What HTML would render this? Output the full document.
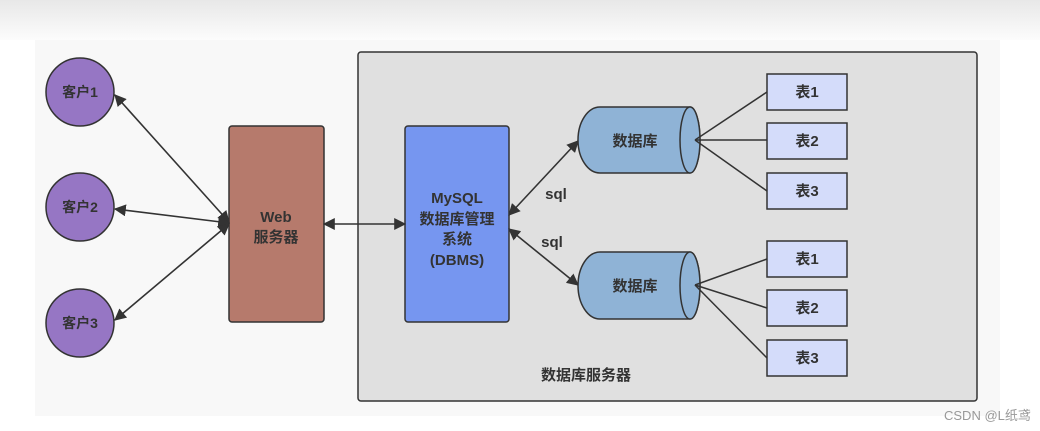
<!DOCTYPE html>
<html><head><meta charset="utf-8"><style>
html,body{margin:0;padding:0;background:#fff;}
body{width:1040px;height:431px;overflow:hidden;position:relative;font-family:"Liberation Sans","Noto Sans CJK SC",sans-serif;}
</style></head><body>
<svg width="1040" height="431" viewBox="0 0 1040 431" xmlns="http://www.w3.org/2000/svg" style="position:absolute;left:0;top:0">
<defs>
<linearGradient id="tg" x1="0" y1="0" x2="0" y2="1"><stop offset="0" stop-color="#e8e8e8"/><stop offset="1" stop-color="#fcfcfc"/></linearGradient>
<marker id="ah" viewBox="0 0 10 10" refX="9" refY="5" markerWidth="12" markerHeight="12" markerUnits="userSpaceOnUse" orient="auto-start-reverse"><path d="M0,0 L10,5 L0,10 z" fill="#333"/></marker>
</defs>
<rect x="0" y="0" width="1040" height="40" fill="url(#tg)"/>
<rect x="35" y="40" width="965" height="376" fill="#f8f8f8"/>
<rect x="358" y="52" width="619" height="349" rx="3" fill="#e0e0e0" stroke="#333" stroke-width="1.5"/>
<g stroke="#333" stroke-width="1.5" fill="#9676c4">
<circle cx="80" cy="92" r="34"/><circle cx="80" cy="207" r="34"/><circle cx="80" cy="323" r="34"/>
</g>
<g font-size="14" font-weight="bold" fill="#333" text-anchor="middle">
<text x="80" y="97">客户1</text><text x="80" y="212">客户2</text><text x="80" y="328">客户3</text>
</g>
<rect x="229" y="126" width="95" height="196" rx="3" fill="#b67a6c" stroke="#333" stroke-width="1.5"/>
<text x="276" y="222" font-size="15" font-weight="bold" fill="#333" text-anchor="middle">Web</text>
<text x="276" y="242" font-size="15" font-weight="bold" fill="#333" text-anchor="middle">服务器</text>
<rect x="405" y="126" width="104" height="196" rx="3" fill="#7696f0" stroke="#333" stroke-width="1.5"/>
<g font-size="15" font-weight="bold" fill="#333" text-anchor="middle">
<text x="457" y="203">MySQL</text><text x="457" y="224">数据库管理</text><text x="457" y="244">系统</text><text x="457" y="265">(DBMS)</text>
</g>
<g stroke="#333" stroke-width="1.6" fill="none" marker-start="url(#ah)" marker-end="url(#ah)">
<line x1="115" y1="95" x2="229" y2="222"/>
<line x1="115" y1="209" x2="229" y2="223"/>
<line x1="115" y1="320" x2="229" y2="224"/>
<line x1="324" y1="224" x2="405" y2="224"/>
<line x1="509" y1="215" x2="578" y2="141"/>
<line x1="509" y1="229" x2="578" y2="285"/>
</g>
<text x="556" y="199" font-size="15" font-weight="bold" fill="#333" text-anchor="middle">sql</text>
<text x="552" y="247" font-size="15" font-weight="bold" fill="#333" text-anchor="middle">sql</text>
<g stroke="#333" stroke-width="1.5">
<path d="M600,107 H690 A10,33 0 0 1 690,173 H600 A22,33 0 0 1 600,107 z" fill="#8fb3d6"/>
<ellipse cx="690" cy="140" rx="10" ry="33" fill="#8fb3d6"/>
<path d="M600,252 H690 A10,33.5 0 0 1 690,319 H600 A22,33.5 0 0 1 600,252 z" fill="#8fb3d6"/>
<ellipse cx="690" cy="285.5" rx="10" ry="33.5" fill="#8fb3d6"/>
</g>
<text x="635" y="146" font-size="15" font-weight="bold" fill="#333" text-anchor="middle">数据库</text>
<text x="635" y="291" font-size="15" font-weight="bold" fill="#333" text-anchor="middle">数据库</text>
<g stroke="#333" stroke-width="1.5" fill="none">
<line x1="695" y1="140" x2="767" y2="92"/><line x1="695" y1="140" x2="767" y2="140"/><line x1="695" y1="140" x2="767" y2="191"/>
<line x1="695" y1="285" x2="767" y2="259"/><line x1="695" y1="285" x2="767" y2="308"/><line x1="695" y1="285" x2="767" y2="358"/>
</g>
<g stroke="#333" stroke-width="1.5" fill="#d4dcfa">
<rect x="767" y="74" width="80" height="36"/><rect x="767" y="123" width="80" height="36"/><rect x="767" y="173" width="80" height="36"/>
<rect x="767" y="241" width="80" height="36"/><rect x="767" y="290" width="80" height="36"/><rect x="767" y="340" width="80" height="36"/>
</g>
<g font-size="15" font-weight="bold" fill="#333" text-anchor="middle">
<text x="807" y="97">表1</text><text x="807" y="146">表2</text><text x="807" y="196">表3</text>
<text x="807" y="264">表1</text><text x="807" y="313">表2</text><text x="807" y="363">表3</text>
</g>
<text x="541" y="380" font-size="15" font-weight="bold" fill="#333">数据库服务器</text>
<text x="944" y="420" font-size="13" fill="#999">CSDN @L纸鸢</text>
</svg>
</body></html>
